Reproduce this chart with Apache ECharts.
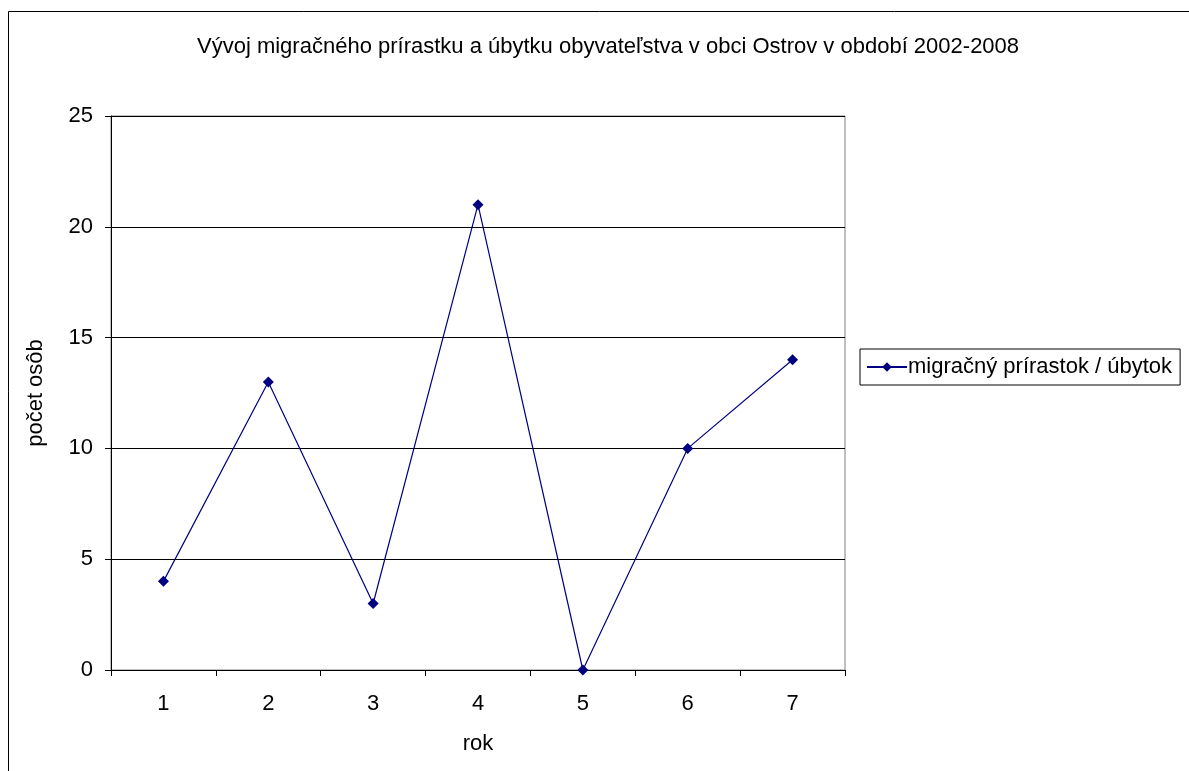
<!DOCTYPE html>
<html>
<head>
<meta charset="utf-8">
<script src="https://cdn.jsdelivr.net/npm/echarts@6/dist/echarts.min.js"></script>
<style>
  html, body { margin: 0; padding: 0; background: #fff; }
  #chart { width: 1189px; height: 771px; }
</style>
</head>
<body>
<div id="chart"></div>
<script>
const years = ['1', '2', '3', '4', '5', '6', '7']
const migration = [4, 13, 3, 21, 0, 10, 14]
const seriesName = 'migračný prírastok / úbytok'
const font = 'Liberation Sans, Arial, sans-serif'
const fs = 22

const chart = echarts.init(document.getElementById('chart'))
chart.setOption({
  animation: false,
  backgroundColor: '#fff',
  textStyle: { fontFamily: font },
  title: {
    text: 'Vývoj migračného prírastku a úbytku obyvateľstva v obci Ostrov v období 2002-2008',
    left: 197,
    top: 36,
    padding: 0,
    textStyle: { fontSize: fs, fontWeight: 'normal', color: '#000', fontFamily: font }
  },
  // outer chart border
  graphic: [{
    type: 'rect',
    shape: { x: 8.5, y: 11.5, width: 1300, height: 900 },
    style: { fill: 'none', stroke: '#000', lineWidth: 1 },
    silent: true
  }],
  legend: {
    data: [seriesName],
    left: 860,
    top: 349,
    orient: 'vertical',
    borderColor: '#000',
    borderWidth: 1,
    padding: [7, 8, 7, 6],
    itemWidth: 40,
    itemHeight: 12,
    itemGap: 0,
    textStyle: { fontSize: fs, color: '#000', fontFamily: font, padding: [0, 0, 0, -4] }
  },
  grid: {
    left: 111,
    right: 1189 - 845,
    top: 116,
    bottom: 771 - 670,
    show: true,
    borderColor: '#808080',
    borderWidth: 1
  },
  xAxis: {
    type: 'category',
    data: years,
    boundaryGap: true,
    name: 'rok',
    nameLocation: 'middle',
    nameGap: 63,
    nameTextStyle: { fontSize: fs, color: '#000' },
    axisLine: { lineStyle: { color: '#000', width: 1 } },
    axisTick: { show: true, length: 6, lineStyle: { color: '#000' } },
    axisLabel: { fontSize: fs, color: '#000', margin: 23 },
    splitLine: { show: false }
  },
  yAxis: {
    type: 'value',
    min: 0,
    max: 25,
    interval: 5,
    name: 'počet osôb',
    nameLocation: 'middle',
    nameGap: 64,
    nameTextStyle: { fontSize: fs, color: '#000' },
    axisLine: { show: true, lineStyle: { color: '#000', width: 1 } },
    axisTick: { show: true, length: 6, lineStyle: { color: '#000' } },
    axisLabel: { fontSize: fs, color: '#000', margin: 18 },
    splitLine: { show: true, lineStyle: { color: '#000', width: 1 } }
  },
  series: [{
    name: seriesName,
    type: 'line',
    data: migration,
    symbol: 'diamond',
    symbolSize: 11,
    lineStyle: { color: '#000080', width: 1.2 },
    itemStyle: { color: '#000080' }
  }]
})
</script>
</body>
</html>
